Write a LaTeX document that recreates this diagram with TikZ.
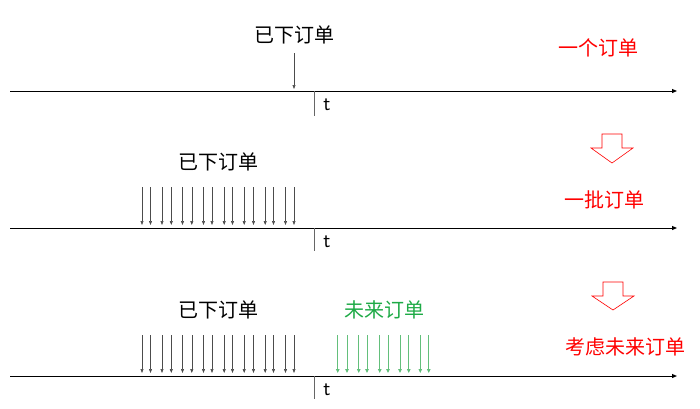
\documentclass[tikz,border=0pt]{standalone}
\usepackage{fontspec}
\newfontfamily\cjk{Noto Sans CJK SC}
\usetikzlibrary{arrows.meta}
\definecolor{ordgreen}{RGB}{30,170,70}
\definecolor{arrgreen}{RGB}{60,175,90}
\tikzset{
  axis/.style={line width=1pt, -{Triangle[length=5pt,width=4pt]}},
  tick/.style={line width=0.8pt, gray!80!black},
  lbl/.style={font=\cjk\fontsize{20}{20}\selectfont, inner sep=0pt},
  redlbl/.style={lbl, text=red},
  greenlbl/.style={lbl, text=ordgreen},
  tlbl/.style={font=\sffamily\fontsize{21}{21}\selectfont, inner sep=0pt},
  ord/.style={line width=0.6pt, gray!60!black, -{Triangle[length=4pt,width=3pt]}},
  fut/.style={line width=1pt, arrgreen!80, -{Triangle[length=4pt,width=3.5pt,fill=arrgreen]}},
  hollow/.style={draw=red, line width=0.6pt, fill=white}
}
\begin{document}
\begin{tikzpicture}[x=1pt,y=-1pt]
\useasboundingbox (0,0) rectangle (700,408);
% ---------- row 1 ----------
\coordinate (a1s) at (10,91); \coordinate (a1e) at (677,91);
\draw[axis] (a1s) -- (a1e);
\coordinate (t1a) at (314,91); \coordinate (t1b) at (314,116);
\draw[tick] (t1a) -- (t1b);
\node[tlbl] (t1) at (327,105) {t};
\node[lbl] (l1) at (294,35) {已下订单};
\coordinate (o1a) at (294,53); \coordinate (o1b) at (294,89);
\draw[ord] (o1a) -- (o1b);
\node[redlbl] (r1) at (598,48) {一个订单};
% hollow arrow 1
\draw[hollow] (602,134) -- (622,134) -- (622,148) -- (633,148) -- (612,163) -- (591,148) -- (602,148) -- cycle;
% ---------- row 2 ----------
\coordinate (a2s) at (10,228); \coordinate (a2e) at (677,228);
\draw[axis] (a2s) -- (a2e);
\coordinate (t2a) at (314,228); \coordinate (t2b) at (314,251);
\draw[tick] (t2a) -- (t2b);
\node[tlbl] (t2) at (327,242) {t};
\node[lbl] (l2) at (218,162) {已下订单};
\node[redlbl] (r2) at (604,200) {一批订单};
\foreach \x in {142,150.5,162,171.3,182.5,191.8,203.5,212,224.2,232.5,244.2,253.5,265.2,273.5,285.5,294}{
  \draw[ord] (\x,187) -- (\x,225);
}
% hollow arrow 2
\draw[hollow] (603,282) -- (623,282) -- (623,296) -- (634,296) -- (613,310) -- (592,296) -- (603,296) -- cycle;
% ---------- row 3 ----------
\coordinate (a3s) at (10,376); \coordinate (a3e) at (677,376);
\draw[axis] (a3s) -- (a3e);
\coordinate (t3a) at (314,376); \coordinate (t3b) at (314,399);
\draw[tick] (t3a) -- (t3b);
\node[tlbl] (t3) at (327,390) {t};
\node[lbl] (l3) at (218,310) {已下订单};
\node[greenlbl] (g3) at (384,310) {未来订单};
\node[redlbl] (r3) at (625,347) {考虑未来订单};
\foreach \x in {142,150.5,162,171.3,182.5,191.8,203.5,212,224.2,232.5,244.2,253.5,265.2,273.5,285.5,294}{
  \draw[ord] (\x,335) -- (\x,373);
}
\foreach \x in {337.7,347,358.7,367,379.7,388,400,408.7,420.3,428.7}{
  \draw[fut] (\x,335) -- (\x,373);
}
\end{tikzpicture}
\end{document}
